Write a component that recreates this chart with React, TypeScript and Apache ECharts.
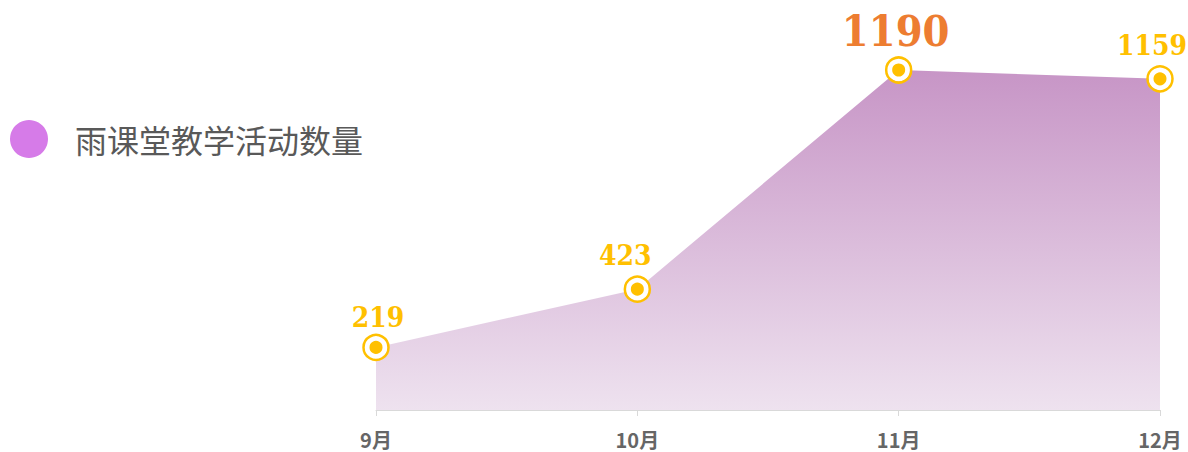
import React, { useEffect, useRef } from "react";
import * as echarts from "echarts";

const categories = ["9月", "10月", "11月", "12月"];
const values = [219, 423, 1190, 1159];
const seriesName = "雨课堂教学活动数量";

// label nudges (style only, px)
const labelOffsets = [
  [2, 2],
  [-12, -2],
  [-3, 0],
  [-8, -2],
];

export default function App() {
  const ref = useRef<HTMLDivElement>(null);
  useEffect(() => {
    if (!ref.current) return;
    const chart = echarts.init(ref.current, null, { renderer: "svg" });
    const maxV = Math.max(...values);
    const data = values.map((v, i) =>
      v === maxV
        ? {
            value: v,
            label: { color: "#ED7D31", fontSize: 43, distance: 6, offset: labelOffsets[i] },
          }
        : { value: v, label: { offset: labelOffsets[i] } }
    );
    chart.setOption({
      animation: false,
      legend: {
        data: [{ name: seriesName, icon: "circle", itemStyle: { color: "#D67BE8" } }],
        left: 10,
        top: 120,
        padding: 0,
        itemWidth: 38,
        itemHeight: 38,
        itemGap: 10,
        itemStyle: { color: "#D67BE8", borderWidth: 0 },
        textStyle: {
          fontSize: 32,
          color: "#595959",
          fontFamily: "Noto Sans CJK SC",
          padding: [0, 0, 10, 22],
        },
      },
      grid: { left: 376, right: 28, top: 10, bottom: 42 },
      xAxis: {
        type: "category",
        data: categories,
        boundaryGap: false,
        axisLine: { lineStyle: { color: "#D9D9D9", width: 1 } },
        axisTick: { show: true, length: 6, alignWithLabel: true, lineStyle: { color: "#D9D9D9" } },
        axisLabel: {
          color: "#666666",
          fontSize: 20,
          fontWeight: "bold",
          fontFamily: "Noto Sans CJK SC",
          margin: 19,
        },
      },
      yAxis: {
        type: "value",
        min: 0,
        max: 1400,
        show: false,
        splitLine: { show: false },
      },
      series: [
        {
          name: seriesName,
          type: "line",
          data,
          symbol: "circle",
          symbolSize: 18,
          itemStyle: { color: "#FFC000", borderColor: "#FFFFFF", borderWidth: 5, opacity: 1 },
          lineStyle: { width: 0, color: "#C795C6" },
          areaStyle: {
            opacity: 1,
            color: new echarts.graphic.LinearGradient(0, 0, 0, 1, [
              { offset: 0, color: "#C795C6" },
              { offset: 1, color: "#EEE2EF" },
            ]),
          },
          emphasis: { disabled: true },
          label: {
            show: true,
            position: "top",
            distance: 6,
            color: "#FFC000",
            fontSize: 28,
            fontWeight: "bold",
            fontFamily: "DejaVu Serif Condensed",
          },
          z: 3,
        },
        {
          type: "scatter",
          data: values,
          symbol: "circle",
          symbolSize: 25,
          itemStyle: {
            color: "rgba(0,0,0,0)",
            borderColor: "#FFC000",
            borderWidth: 2.5,
            opacity: 1,
          },
          silent: true,
          z: 4,
        },
      ],
    });
    return () => chart.dispose();
  }, []);
  return <div ref={ref} style={{ width: 1188, height: 452, position: "absolute", left: 0, top: 0 }} />;
}
